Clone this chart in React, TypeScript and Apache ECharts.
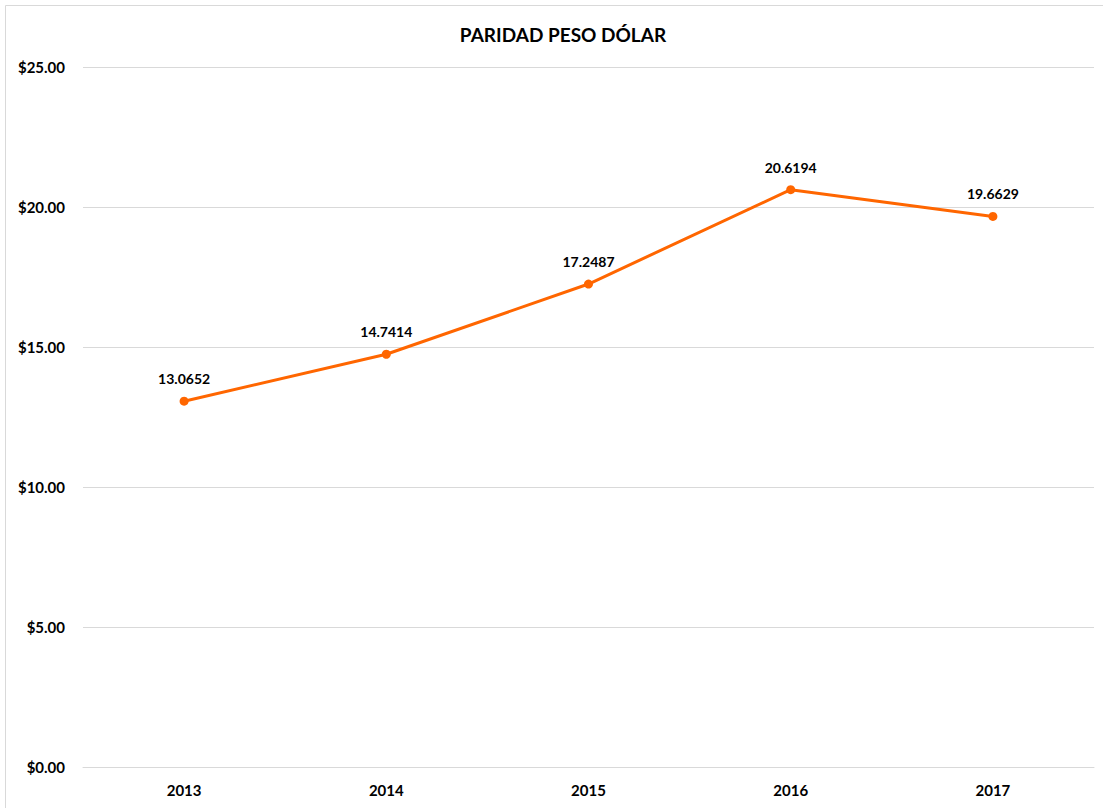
import React, { useEffect, useRef } from "react";
import * as echarts from "echarts";

const years = ["2013", "2014", "2015", "2016", "2017"];
const rates = [13.0652, 14.7414, 17.2487, 20.6194, 19.6629];
const yTicks = { min: 0, max: 25, interval: 5 };
const titleText = "PARIDAD PESO DÓLAR";

export default function App() {
  const ref = useRef<HTMLDivElement>(null);
  useEffect(() => {
    document.body.style.margin = "0";
    const chart = echarts.init(ref.current!, null, { renderer: "svg" });
    const font = "Lato, 'Open Sans', sans-serif";
    chart.setOption({
      animation: false,
      backgroundColor: "#ffffff",
      textStyle: { fontFamily: font },
      title: {
        text: titleText,
        left: 558,
        top: 20,
        textAlign: "center",
        textStyle: { fontSize: 19, fontWeight: "bold", color: "#000", fontFamily: font },
      },
      graphic: [
        {
          type: "rect",
          shape: { x: 5.5, y: 5.5, width: 1200, height: 900 },
          style: { fill: "none", stroke: "#d9d9d9", lineWidth: 1 },
          silent: true,
        },
      ],
      grid: { left: 83, right: 9, top: 67, bottom: 41, containLabel: false },
      xAxis: {
        type: "category",
        data: years,
        boundaryGap: true,
        axisLine: { show: true, lineStyle: { color: "#d9d9d9", width: 1 } },
        axisTick: { show: false },
        axisLabel: { color: "#000", fontWeight: "bold", fontSize: 15, margin: 15, fontFamily: font },
      },
      yAxis: {
        type: "value",
        min: yTicks.min,
        max: yTicks.max,
        interval: yTicks.interval,
        axisLine: { show: false },
        axisTick: { show: false },
        splitLine: { lineStyle: { color: "#d9d9d9", width: 1 } },
        axisLabel: {
          color: "#000",
          fontWeight: "bold",
          fontSize: 15,
          margin: 18,
          fontFamily: font,
          formatter: (v: number) => "$" + v.toFixed(2),
        },
      },
      series: [
        {
          type: "line",
          data: rates,
          lineStyle: { color: "#ff6600", width: 3 },
          itemStyle: { color: "#ff6600" },
          symbol: "circle",
          symbolSize: 9,
          label: {
            show: true,
            position: "top",
            distance: 11,
            color: "#000",
            fontWeight: "bold",
            fontSize: 14,
            fontFamily: font,
            formatter: (p: any) => p.value.toFixed(4),
          },
        },
      ],
    });
    return () => chart.dispose();
  }, []);
  return <div ref={ref} style={{ width: 1103, height: 808 }} />;
}
